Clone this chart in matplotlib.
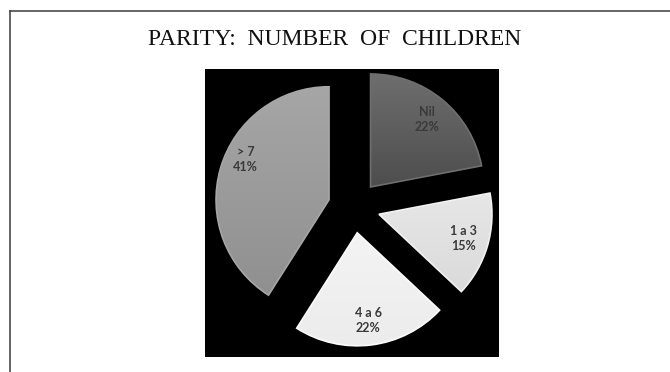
import numpy as np
import matplotlib
matplotlib.use("Agg")
import matplotlib.pyplot as plt
from matplotlib.colors import LinearSegmentedColormap
from matplotlib.lines import Line2D

# data
categories = ["Nil", "1 a 3", "4 a 6", "> 7"]
percent = [22, 15, 22, 41]

title = "PARITY:  NUMBER  OF  CHILDREN"

# vertical gradient per slice (bottom colour, top colour)
shades = [("#2c2c2c", "#6e6e6e"),
          ("#d6d6d6", "#f2f2f2"),
          ("#ececec", "#fbfbfb"),
          ("#8e8e8e", "#a6a6a6")]


def draw_chart(output_path):
    fig = plt.figure(figsize=(6.7, 3.72), dpi=100)
    fig.patch.set_facecolor("white")

    # page border (only the top and left edges show in the crop)
    fig.add_artist(Line2D([9.5 / 670, 9.5 / 670], [0, 1 - 10.5 / 372],
                          color="#3c3c3c", lw=1.1))
    fig.add_artist(Line2D([9.5 / 670, 1], [1 - 10.5 / 372, 1 - 10.5 / 372],
                          color="#3c3c3c", lw=1.1))

    fig.text(0.5, 1 - 45 / 372, title, ha="center", va="baseline",
             fontsize=17, family="Liberation Serif", color="#111111")

    ax = fig.add_axes([205 / 670, 15 / 372, 294 / 670, 288 / 372])

    labels = [f"{c}\n{p}%" for c, p in zip(categories, percent)]
    wedges, texts = ax.pie(percent, labels=labels, startangle=90,
                           counterclock=False, explode=[0.23] * 4,
                           labeldistance=0.78, colors=[s[1] for s in shades],
                           wedgeprops=dict(linewidth=0))

    for w, (lo, hi) in zip(wedges, shades):
        cmap = LinearSegmentedColormap.from_list("g", [lo, hi])
        cx, cy = w.center
        r = w.r
        grad = np.linspace(0, 1, 256).reshape(-1, 1)
        im = ax.imshow(grad, cmap=cmap, origin="lower", aspect="auto",
                       extent=(cx - r, cx + r, cy - r, cy + r),
                       interpolation="bilinear", zorder=2)
        im.set_clip_path(w)
        # soft light rim like the blurred original
        w.set_edgecolor(hi)
        w.set_linewidth(1.2)
        w.set_zorder(3)
        w.set_facecolor("none")

    # the "> 7" label sits a little higher than the mid angle
    cx, cy = wedges[3].center
    ang = np.deg2rad(154)
    texts[3].set_position((cx + 0.82 * np.cos(ang), cy + 0.82 * np.sin(ang)))

    for t in texts:
        t.set_ha("center")
        t.set_va("center")
        t.set_fontsize(9)
        t.set_fontweight("bold")
        t.set_family("Lato")
        t.set_color("#3a3a3a")
        t.set_linespacing(1.3)
        t.set_zorder(5)

    ax.set_frame_on(True)
    ax.set_facecolor("black")
    for s in ax.spines.values():
        s.set_visible(False)
    ax.set_aspect("auto")
    ax.set_xlim(-149 / 113, 145 / 113)
    ax.set_ylim(-150 / 113, 138 / 113)
    ax.set_xticks([])
    ax.set_yticks([])

    fig.savefig(output_path, dpi=100)
    plt.close(fig)


def main():
    draw_chart("out.png")


if __name__ == "__main__":
    main()
